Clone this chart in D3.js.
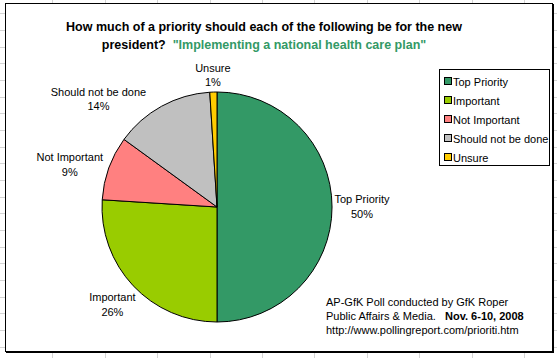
<!DOCTYPE html>
<html><head><meta charset="utf-8">
<script src="https://cdn.jsdelivr.net/npm/d3@7"></script>
<style>html,body{margin:0;padding:0;background:#fff;}svg{display:block;}</style>
</head><body>
<svg id="chart" width="557" height="358"></svg>
<script>
const categories = ["Top Priority", "Important", "Not Important", "Should not be done", "Unsure"];
const values = [50, 26, 9, 14, 1];
const colors = ["#339966", "#99CC00", "#FF8080", "#C0C0C0", "#FFCC00"];
const titleLine1 = "How much of a priority should each of the following be for the new";
const titleLine2a = "president?\u00a0\u00a0";
const titleLine2b = "\"Implementing a national health care plan\"";
const sourceLines = ["AP-GfK Poll conducted by GfK Roper", "Public Affairs & Media.", "Nov. 6-10, 2008", "http://www.pollingreport.com/prioriti.htm"];

const W = 557, H = 358;
const FONT = "Arial, 'Liberation Sans', sans-serif";
const svg = d3.select("#chart");

// spreadsheet grid in the background
const grid = svg.append("g").attr("stroke", "#d4d4d4").attr("stroke-width", 1);
d3.range(52.4, W, 52.4).forEach(x => grid.append("line").attr("x1", Math.round(x) + .5).attr("x2", Math.round(x) + .5).attr("y1", 0).attr("y2", H));
d3.range(13.3, H, 16.67).forEach(y => grid.append("line").attr("y1", Math.round(y) + .5).attr("y2", Math.round(y) + .5).attr("x1", 0).attr("x2", W));

// chart frame with shadow
const fx = 5, fy = 3, fw = 547, fh = 348;
svg.append("rect").attr("x", fx + 1).attr("y", fy + 1).attr("width", fw + 1).attr("height", fh + 1).attr("fill", "#000");
svg.append("rect").attr("x", fx + .5).attr("y", fy + .5).attr("width", fw).attr("height", fh).attr("fill", "#fff").attr("stroke", "#000").attr("stroke-width", 1);

// title
const title = svg.append("text").attr("font-family", FONT).attr("font-weight", "bold").attr("font-size", 12.5).attr("text-anchor", "middle");
title.append("tspan").attr("x", 264).attr("y", 31).text(titleLine1);
const t2 = title.append("tspan").attr("x", 264).attr("y", 49);
t2.append("tspan").attr("fill", "#000").text(titleLine2a);
t2.append("tspan").attr("fill", "#339966").text(titleLine2b);

// pie
const cx = 217, cy = 207, r = 115;
const pie = d3.pie().sort(null).startAngle(0).endAngle(2 * Math.PI).value(d => d.v);
const data = categories.map((c, i) => ({c, v: values[i], col: colors[i]}));
const arcs = pie(data);
const arc = d3.arc().innerRadius(0).outerRadius(r);
const g = svg.append("g").attr("transform", `translate(${cx},${cy})`);
g.selectAll("path").data(arcs).join("path")
  .attr("d", arc).attr("fill", d => d.data.col)
  .attr("stroke", "#000").attr("stroke-width", 1).attr("stroke-linejoin", "round");

// data labels (best-fit style: box pushed out along a direction until it clears the pie)
const angleShift = {"Should not be done": -19 * Math.PI / 180, "Not Important": -4 * Math.PI / 180};
const clearance = r + 2;
const lbl = g.append("g").attr("font-family", FONT).attr("font-size", 11).attr("fill", "#000").attr("text-anchor", "middle");
arcs.forEach(a => {
  const t = lbl.append("text");
  t.append("tspan").attr("x", 0).attr("y", 0).text(a.data.c);
  t.append("tspan").attr("x", 0).attr("y", 14.5).text(Math.round(a.data.v) + "%");
  const bb = t.node().getBBox();
  const w = bb.width, h = 28;
  const ang = (a.startAngle + a.endAngle) / 2 + (angleShift[a.data.c] || 0);
  const ux = Math.sin(ang), uy = -Math.cos(ang);
  let dist = 0;
  for (let s = 0; s < 400; s += 0.5) {
    const bx = s * ux, by = s * uy;
    const nx = Math.max(bx - w / 2, Math.min(0, bx + w / 2));
    const ny = Math.max(by - h / 2, Math.min(0, by + h / 2));
    if (Math.hypot(nx, ny) >= clearance) { dist = s; break; }
  }
  const px = dist * ux, py = dist * uy;
  t.attr("transform", `translate(${px},${py - h / 2 + 10})`);
});

// legend
const lx = 439, ly = 69, lw = 110, lh = 96;
svg.append("rect").attr("x", lx + .5).attr("y", ly + .5).attr("width", lw).attr("height", lh).attr("fill", "#fff").attr("stroke", "#000");
const leg = svg.append("g").attr("font-family", FONT).attr("font-size", 11);
const ls = d3.scalePoint().domain(categories).range([ly + 13, ly + 13 + 4 * 19]);
categories.forEach((c, i) => {
  leg.append("rect").attr("x", 444.5).attr("y", ls(c) - 4.5).attr("width", 7).attr("height", 7).attr("fill", colors[i]).attr("stroke", "#000");
  leg.append("text").attr("x", 453).attr("y", ls(c) + 4).text(c);
});

// source note
const src = svg.append("g").attr("font-family", FONT).attr("font-size", 11);
src.append("text").attr("x", 326).attr("y", 306).text(sourceLines[0]);
const s2 = src.append("text").attr("x", 326).attr("y", 320);
s2.append("tspan").text(sourceLines[1] + "\u00a0\u00a0\u00a0");
s2.append("tspan").attr("font-weight", "bold").text(sourceLines[2]);
src.append("text").attr("x", 326).attr("y", 334).text(sourceLines[3]);
</script>
</body></html>
